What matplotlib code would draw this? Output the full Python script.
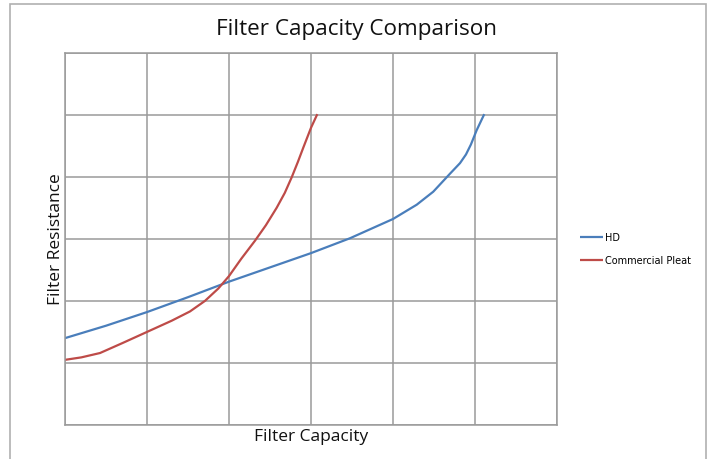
import matplotlib
matplotlib.use("Agg")
import matplotlib.pyplot as plt
from matplotlib.patches import Rectangle

title = "Filter Capacity Comparison"
x_label = "Filter Capacity"
y_label = "Filter Resistance"

hd_x = [0.0, 0.5, 1.0, 1.5, 2.0, 2.5, 3.0, 3.476, 4.0, 4.289, 4.491, 4.695, 4.817, 4.89, 4.95, 5.02, 5.113]
hd_y = [1.40, 1.60, 1.82, 2.06, 2.31, 2.54, 2.77, 3.01, 3.32, 3.55, 3.76, 4.05, 4.22, 4.36, 4.52, 4.75, 5.01]

cp_x = [0.0, 0.2, 0.427, 0.7, 1.0, 1.3, 1.524, 1.707, 1.870, 2.0, 2.15, 2.317, 2.45, 2.581, 2.68, 2.764, 2.84, 2.906, 3.0, 3.077]
cp_y = [1.05, 1.09, 1.16, 1.32, 1.50, 1.68, 1.83, 2.00, 2.20, 2.40, 2.68, 2.97, 3.22, 3.50, 3.74, 3.99, 4.24, 4.47, 4.79, 5.01]

fig = plt.figure(figsize=(7.13, 4.59), dpi=100)
fig.patch.set_facecolor("white")
ax = fig.add_axes([65/713, 34/459, 492/713, 372.3/459])

ax.plot(hd_x, hd_y, color="#4a7ebb", lw=1.6, label="HD", solid_capstyle="butt")
ax.plot(cp_x, cp_y, color="#be4b48", lw=1.6, label="Commercial Pleat", solid_capstyle="butt")

ax.set_xlim(0, 6)
ax.set_ylim(0, 6)
ax.set_xticks(range(7))
ax.set_yticks(range(7))
ax.grid(True, color="#9a9a9a", lw=1.1)
ax.set_axisbelow(True)
ax.tick_params(length=0, labelbottom=False, labelleft=False)
for s in ax.spines.values():
    s.set_color("#9a9a9a")
    s.set_linewidth(1.1)

fig.text(357/713, 1 - 29/459, title, ha="center", va="center", fontsize=16.2, family="Open Sans", weight="medium", color="#111111")
fig.text(311/713, 1 - 437/459, x_label, ha="center", va="center", fontsize=12.5, family="Open Sans", weight="medium", color="#111111")
fig.text(56/713, 1 - 239/459, y_label, ha="center", va="center", rotation=90, fontsize=12.5, family="Open Sans", weight="medium", color="#111111")

leg = fig.legend(loc="upper left", bbox_to_anchor=(576/713, 1 - 229/459), frameon=False,
                 fontsize=7, handlelength=2.4, handletextpad=0.15, labelspacing=1.3, borderaxespad=0)

fig.patches.append(Rectangle((10/713, -0.1), 696/713, 1.1 - 4/459, transform=fig.transFigure,
                             fill=False, edgecolor="#b0b0b0", lw=1.2))

fig.savefig("out.png", dpi=100)
